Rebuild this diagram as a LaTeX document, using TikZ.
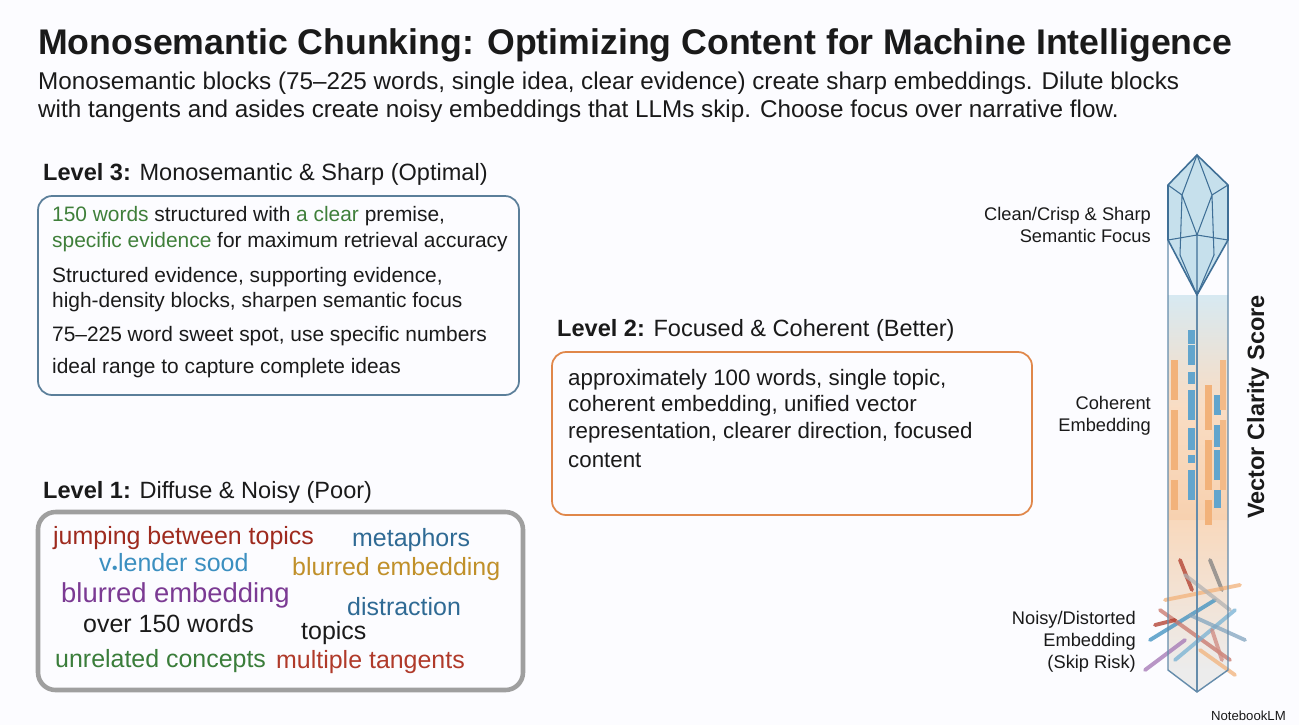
\documentclass[tikz,border=0pt]{standalone}
\usepackage{fontspec}
\setmainfont{Liberation Sans}
\usetikzlibrary{positioning}
\definecolor{ink}{HTML}{1A1A1A}
\definecolor{evgreen}{HTML}{3F7F3A}
\definecolor{boxblue}{HTML}{5B7F9A}
\definecolor{boxorange}{HTML}{E0874A}
\definecolor{wred}{HTML}{9E2A1E}
\definecolor{wblue}{HTML}{2F6A94}
\definecolor{wlblue}{HTML}{3B8FC0}
\definecolor{wgold}{HTML}{C0902A}
\definecolor{wpurple}{HTML}{7B3A93}
\definecolor{wgreen}{HTML}{3A7D3A}
\definecolor{wrust}{HTML}{B03A2A}
\definecolor{ice}{HTML}{C6E0EC}
\definecolor{iceline}{HTML}{3F6F96}
\definecolor{barorange}{HTML}{F2B27A}
\tikzset{
  title/.style={anchor=west,font=\fontsize{20.3}{23}\selectfont\bfseries,text=ink},
  sub/.style={anchor=west,font=\fontsize{13.8}{16}\selectfont,text=ink},
  level/.style={anchor=west,font=\fontsize{13.4}{15}\selectfont,text=ink},
  body/.style={anchor=west,font=\fontsize{11.9}{14}\selectfont,text=ink},
  bodyb/.style={anchor=west,font=\fontsize{12.7}{15}\selectfont,text=ink},
  word/.style={anchor=west,font=\fontsize{14.2}{16}\selectfont},
  side/.style={anchor=east,align=right,font=\fontsize{10.4}{12.6}\selectfont,text=ink},
}
\begin{document}
\begin{tikzpicture}[x=0.02cm,y=-0.02cm]
  \useasboundingbox[fill=white!96!blue!30] (0,0) rectangle (1299,725);

  % titel
  \node[title] (head) at (32,45) {Monosemantic Chunking: Optimizing Content for Machine Intelligence};
  \node[sub] (sub1) at (32,83) {Monosemantic blocks (75--225 words, single idea, clear evidence) create sharp embeddings. Dilute blocks};
  \node[sub] (sub2) at (32,111) {with tangents and asides create noisy embeddings that LLMs skip. Choose focus over narrative flow.};

  % level 3
  \node[level] (l3) at (37,174) {\textbf{Level 3:} Monosemantic \& Sharp (Optimal)};
  \draw[boxblue,line width=1pt,rounded corners=8] (38,196) rectangle (519,395);
  \node[body] (l3a) at (46,216) {\textcolor{evgreen}{150 words} structured with \textcolor{evgreen}{a clear} premise,};
  \node[body] (l3b) at (46,242) {\textcolor{evgreen}{specific evidence} for maximum retrieval accuracy};
  \node[body] (l3c) at (46,277) {Structured evidence, supporting evidence,};
  \node[body] (l3d) at (46,302) {high-density blocks, sharpen semantic focus};
  \node[body] (l3e) at (46,336) {75--225 word sweet spot, use specific numbers};
  \node[body] (l3f) at (46,368) {ideal range to capture complete ideas};

  % level 2
  \node[level] (l2) at (551,330) {\textbf{Level 2:} Focused \& Coherent (Better)};
  \draw[boxorange,line width=1pt,rounded corners=8] (552,352) rectangle (1032,515);
  \node[bodyb] (l2a) at (562,380) {approximately 100 words, single topic,};
  \node[bodyb] (l2b) at (562,406) {coherent embedding, unified vector};
  \node[bodyb] (l2c) at (562,433) {representation, clearer direction, focused};
  \node[bodyb] (l2d) at (562,460) {content};

  % level 1
  \node[level] (l1) at (37,492) {\textbf{Level 1:} Diffuse \& Noisy (Poor)};
  \draw[gray!75,line width=2.6pt,rounded corners=10] (38,512) rectangle (523,690);
  \node[word,text=wred] (w1) at (47,538) {jumping between topics};
  \node[word,text=wblue] (w2) at (346,540) {metaphors};
  \node[word,text=wlblue] (w3) at (93,563) {v\raisebox{1pt}{\tiny$\bullet$}lender sood};
  \node[word,text=wgold] (w4) at (286,569) {blurred embedding};
  \node[word,text=wpurple,font=\fontsize{15.6}{17}\selectfont] (w5) at (55,595) {blurred embedding};
  \node[word,text=wblue] (w6) at (341,607) {distraction};
  \node[word,text=ink] (w7) at (77,624) {over 150 words};
  \node[word,text=ink] (w8) at (295,633) {topics};
  \node[word,text=wgreen] (w9) at (49,661) {unrelated concepts};
  \node[word,text=wrust] (w10) at (270,662) {multiple tangents};

  % vector bar
  \shade[top color=ice!70,bottom color=barorange!60,middle color=barorange!45] (1168,295) rectangle (1228,520);
  \shade[top color=barorange!50,bottom color=gray!15] (1168,520) rectangle (1228,670);
  \fill[gray!15] (1168,670) -- (1197,692) -- (1228,670) -- cycle;
  \foreach \yy/\hh in {330/14,345/20,372/12,390/30,428/22,455/8,470/30} {
    \fill[wlblue!80] (1188,\yy) rectangle (1195,\yy+\hh);}
  \foreach \yy/\hh in {360/40,410/60,480/30} {
    \fill[barorange] (1171,\yy) rectangle (1178,\yy+\hh);}
  \foreach \yy/\hh in {385/45,440/50,500/25} {
    \fill[barorange] (1205,\yy) rectangle (1212,\yy+\hh);}
  \foreach \yy/\hh in {395/20,425/22,450/30,490/18} {
    \fill[wlblue!80] (1214,\yy) rectangle (1221,\yy+\hh);}
  \foreach \yy/\hh in {360/50,420/70} {
    \fill[barorange!90] (1220,\yy) rectangle (1226,\yy+\hh);}
  % noise
  \foreach \xa/\ya/\xb/\yb/\cc in {1180/560/1192/590/wrust,1150/640/1215/600/wlblue,1160/610/1230/660/wrust!70,
      1175/660/1235/610/wlblue!70,1210/560/1222/590/gray,1145/670/1185/640/wpurple!70,
      1165/600/1240/585/barorange,1190/615/1245/640/wblue!60,1200/650/1235/675/barorange,
      1155/625/1175/620/wrust,1212/630/1222/660/wrust!60,1185/575/1230/610/gray!60}{
    \draw[\cc,line width=2.2pt,line cap=round,opacity=0.75] (\xa,\ya) -- (\xb,\yb);}
  \draw[iceline!80,line width=0.8pt] (1168,185) -- (1168,670) -- (1197,692) -- (1228,670) -- (1228,185);
  \draw[iceline!80,line width=0.8pt] (1197,295) -- (1197,692);

  % crystal
  \fill[ice] (1197,155) -- (1168,185) -- (1168,240) -- (1197,295) -- (1228,240) -- (1228,185) -- cycle;
  \draw[iceline,line width=0.9pt,line join=round] (1197,155) -- (1168,185) -- (1168,240) -- (1197,295) -- (1228,240) -- (1228,185) -- cycle;
  \draw[iceline,line width=0.6pt] (1197,155) -- (1182,195) -- (1197,235) -- (1212,195) -- cycle
    (1168,185) -- (1182,195) (1228,185) -- (1212,195)
    (1168,240) -- (1197,235) -- (1228,240)
    (1182,195) -- (1180,255) -- (1197,295) -- (1214,255) -- (1212,195)
    (1197,235) -- (1197,295);

  \node[side] (cs) at (1157,225) {Clean/Crisp \& Sharp\\Semantic Focus};
  \node[side] (ce) at (1157,416) {Coherent\\Embedding};
  \node[side] (nd) at (1142,642) {Noisy/Distorted\\Embedding\\(Skip Risk)};
  \node[rotate=90,font=\fontsize{13.4}{16}\selectfont\bfseries,text=ink] (vcs) at (1258,407) {Vector Clarity Score};
  \node[anchor=east,font=\fontsize{7.5}{9}\selectfont,text=ink] (nlm) at (1292,716) {NotebookLM};
\end{tikzpicture}
\end{document}
